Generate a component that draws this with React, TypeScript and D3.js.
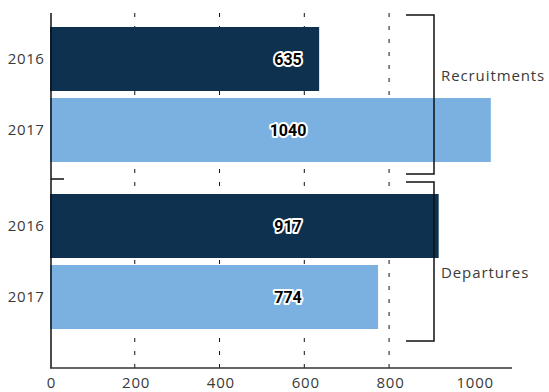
import React from "react";
import * as d3 from "d3";

const groups = ["Recruitments", "Departures"];
const years = ["2016", "2017"];
const recruitments = [635, 1040];
const departures = [917, 774];
const xTicks = [0, 200, 400, 600, 800, 1000];
const gridTicks = [200, 400, 600, 800];

const W = 549;
const H = 392;
const DARK = "#0e3150";
const LIGHT = "#7bb1e0";
const FONT = "'Open Sans', 'Noto Sans', sans-serif";

export default function App() {
  const values = [recruitments, departures];
  const x = d3.scaleLinear().domain([0, 1090]).range([50, 512]);
  const yG = d3.scaleBand<string>().domain(groups).range([27, 329]).paddingInner(32 / 167).paddingOuter(0);
  const yY = d3.scaleBand<string>().domain(years).range([0, yG.bandwidth()]).paddingInner(0.0986);
  const axisTop = 13;
  const axisBottom = 368;
  const sepY = (yG(groups[0])! + yG.bandwidth() + yG(groups[1])!) / 2 + 1;
  const labelX = 288;
  const bracketX = 434;
  const bracketX0 = 406;
  const labelOffsets = [-19, 11];

  return (
    <svg width={W} height={H} style={{ position: "absolute", left: 0, top: 0 }}>
      <rect width={W} height={H} fill="#fff" />
      {gridTicks.map((t) => (
        <line key={t} x1={x(t)} x2={x(t)} y1={axisTop} y2={axisBottom} stroke="#111" strokeWidth={1} strokeDasharray="4,9" />
      ))}
      {groups.map((g, gi) =>
        years.map((yr, yi) => {
          const y0 = yG(g)! + yY(yr)!;
          const v = values[gi][yi];
          return (
            <g key={g + yr}>
              <rect x={x(0)} y={y0} width={x(v) - x(0)} height={yY.bandwidth()} fill={yi === 0 ? DARK : LIGHT} />
              <text x={44.5} y={y0 + yY.bandwidth() / 2} dy="0.35em" textAnchor="end" fontFamily={FONT} fontSize={15} letterSpacing={0.6} fill="#3a3a3a">
                {yr}
              </text>
            </g>
          );
        })
      )}
      <line x1={51} x2={51} y1={axisTop} y2={axisBottom} stroke="#111" strokeWidth={1.5} />
      <line x1={51} x2={64} y1={sepY} y2={sepY} stroke="#111" strokeWidth={1.5} />
      <line x1={50} x2={512} y1={axisBottom} y2={axisBottom} stroke="#333" strokeWidth={1.5} />
      {xTicks.map((t) => (
        <text key={t} x={x(t) + 1.4} y={388} textAnchor="middle" fontFamily={FONT} fontSize={15} letterSpacing={0.8} fill="#3a3a3a">
          {t}
        </text>
      ))}
      {groups.map((g, gi) =>
        years.map((yr, yi) => {
          const y0 = yG(g)! + yY(yr)!;
          const v = values[gi][yi];
          return (
            <text key={"l" + g + yr} x={labelX} y={y0 + yY.bandwidth() / 2} dy="0.36em" textAnchor="middle"
              fontFamily="Roboto, sans-serif" fontWeight={700} fontSize={16} fill="#000"
              stroke="#fff" strokeWidth={4} strokeLinejoin="round" style={{ paintOrder: "stroke" }}>
              {v}
            </text>
          );
        })
      )}
      {groups.map((g, gi) => {
        const c = yG(g)! + yG.bandwidth() / 2;
        const half = yG.bandwidth() / 2 + 12;
        return (
          <g key={"b" + g}>
            <path d={`M${bracketX0},${c - half}H${bracketX}V${c + half}H${bracketX0}`} fill="none" stroke="#111" strokeWidth={1.5} />
            <text x={441} y={c + labelOffsets[gi]} dy="0.35em" fontFamily={FONT} fontSize={15} letterSpacing={0.9} fill="#3a3a3a">
              {g}
            </text>
          </g>
        );
      })}
    </svg>
  );
}
